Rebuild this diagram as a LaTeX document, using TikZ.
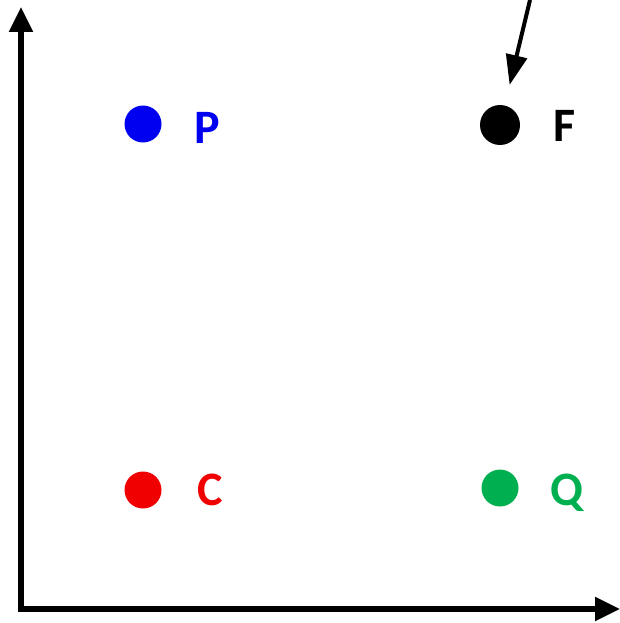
\documentclass[tikz,border=0pt]{standalone}
\usepackage{fontspec}
\setmainfont{Carlito}
\usepackage{xcolor}
\usepackage{tikz}
\usetikzlibrary{arrows.meta,positioning,calc}

\definecolor{ptblue}{HTML}{0000F0}
\definecolor{ptred}{HTML}{F00000}
\definecolor{ptgreen}{HTML}{00B050}

\begin{document}
\begin{tikzpicture}[x=1pt, y=-1pt,
    dot/.style={circle, minimum size=37pt, inner sep=0pt},
    lbl/.style={anchor=base west, inner sep=0pt, font=\bfseries\fontsize{48}{48}\selectfont},
    axis/.style={line width=5.5pt, line join=miter, {Triangle[length=25pt,width=23pt]}-{Triangle[length=25pt,width=23pt]}},
    pointer/.style={line width=4pt, -{Triangle[length=30pt,width=21pt]}, shorten >=21pt}]

% Fixed frame so the page keeps the picture's margins
\useasboundingbox (0,0) rectangle (620,623);

% Axes
\coordinate (ytop) at (21,7);
\coordinate (origin) at (21,609);
\coordinate (xend) at (620,609);
\draw[axis] (ytop) -- (origin) -- (xend);

% Points
\node[dot, fill=ptblue] (P) at (143,124) {};
\node[dot, fill=black, minimum size=40pt] (F) at (500,125) {};
\node[dot, fill=ptred] (C) at (143,490) {};
\node[dot, fill=ptgreen] (Q) at (500,488) {};

% Labels
\node[lbl, text=ptblue] (Plbl) at (194,143) {P};
\node[lbl, text=black] (Flbl) at (553,141) {F};
\node[lbl, text=ptred] (Clbl) at (197,505) {C};
\node[lbl, text=ptgreen] (Qlbl) at (550,505) {Q};

% Pointer onto F
\coordinate (fsrc) at (530,0);
\draw[pointer] (fsrc) -- (F);

\end{tikzpicture}
\end{document}
